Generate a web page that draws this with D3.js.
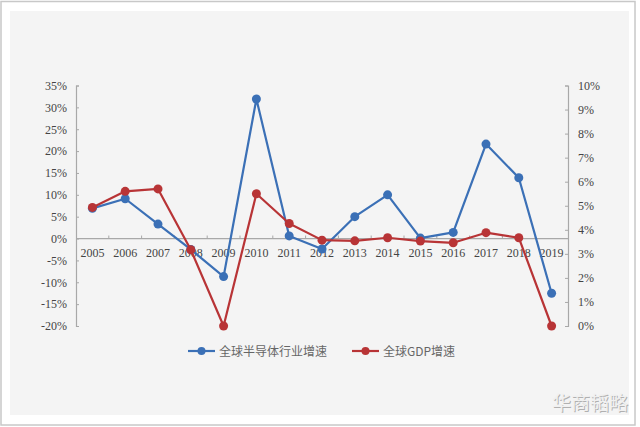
<!DOCTYPE html>
<html><head><meta charset="utf-8">
<script src="https://cdn.jsdelivr.net/npm/d3@7"></script>
<style>html,body{margin:0;padding:0;background:#fff}svg{display:block}
.serif{font-family:"Liberation Serif","DejaVu Serif",serif !important}</style>
</head><body>
<script>
const years = ["2005","2006","2007","2008","2009","2010","2011","2012","2013","2014","2015","2016","2017","2018","2019"];
const semiGrowth = [6.9, 9.1, 3.3, -2.5, -8.7, 31.9, 0.6, -2.4, 5.0, 10.0, 0.1, 1.4, 21.6, 13.9, -12.5];
const gdpGrowth = [4.93, 5.6, 5.7, 3.17, 0.0, 5.5, 4.26, 3.57, 3.54, 3.67, 3.53, 3.46, 3.88, 3.67, 0.0];
const leftTicks = [35,30,25,20,15,10,5,0,-5,-10,-15,-20];
const rightTicks = [10,9,8,7,6,5,4,3,2,1,0];
const seriesNames = ["全球半导体行业增速","全球GDP增速"];
const colors = ["#3b70b6","#b83436"];

const W=640,H=427;
const svg=d3.select("body").append("svg").attr("width",W).attr("height",H);
svg.append("rect").attr("x",0).attr("y",0).attr("width",W).attr("height",H).attr("fill","#fff");
svg.append("rect").attr("x",1).attr("y",1.5).attr("width",634).attr("height",423.5).attr("fill","#fff").attr("stroke","#c8c8c8").attr("stroke-width",1.5);
svg.append("rect").attr("x",10).attr("y",11).attr("width",619).attr("height",404).attr("fill","#f4f4f4");

const x0=76,x1=568;
const x=d3.scalePoint().domain(years).range([x0,x1]).padding(0.5);
const yL=d3.scaleLinear().domain([-20,35]).range([326,85.5]);
const yR=d3.scaleLinear().domain([0,10]).range([326,85.5]);
const axisCol="#a8a8a8";

// left axis
const gL=svg.append("g").attr("transform",`translate(${x0},0)`)
  .call(d3.axisRight(yL).tickValues(leftTicks).tickSize(3).tickFormat(d=>d+"%"));
gL.attr("font-family",null);
gL.select(".domain").attr("stroke",axisCol).attr("stroke-width",1.2);
gL.selectAll(".tick line").attr("stroke",axisCol);
gL.selectAll(".tick text").attr("x",-9).attr("text-anchor","end").attr("class","serif").attr("font-size",12).attr("fill","#444");

// right axis
const gR=svg.append("g").attr("transform",`translate(${x1},0)`)
  .call(d3.axisLeft(yR).tickValues(rightTicks).tickSize(3).tickFormat(d=>d+"%"));
gR.attr("font-family",null);
gR.select(".domain").attr("stroke",axisCol).attr("stroke-width",1.2);
gR.selectAll(".tick line").attr("stroke",axisCol);
gR.selectAll(".tick text").attr("x",10).attr("text-anchor","start").attr("class","serif").attr("font-size",12).attr("fill","#444");

// x axis at 0%
const y0=yL(0);
svg.append("line").attr("x1",x0).attr("x2",x1).attr("y1",y0).attr("y2",y0).attr("stroke",axisCol).attr("stroke-width",1.2);
const step=x.step();
years.slice(1).forEach((yr)=>{
  const bx=x(yr)-step/2;
  svg.append("line").attr("x1",bx).attr("x2",bx).attr("y1",y0).attr("y2",y0-3).attr("stroke",axisCol);
});
svg.append("g").selectAll("text").data(years).join("text")
  .attr("x",d=>x(d)).attr("y",y0+18).attr("text-anchor","middle")
  .attr("class","serif").attr("font-size",12).attr("fill","#444").text(d=>d);

// lines
function drawSeries(vals,scale,col){
  const line=d3.line().x((d,i)=>x(years[i])).y(d=>scale(d));
  svg.append("path").datum(vals).attr("d",line).attr("fill","none").attr("stroke",col).attr("stroke-width",2.2).attr("stroke-linejoin","round");
  svg.append("g").selectAll("circle").data(vals).join("circle")
    .attr("cx",(d,i)=>x(years[i])).attr("cy",d=>scale(d)).attr("r",4.5).attr("fill",col);
}
drawSeries(semiGrowth,yL,colors[0]);
drawSeries(gdpGrowth,yR,colors[1]);

// legend
const legY=351;
const leg=[{x:188,tx:219},{x:352,tx:383}];
seriesNames.forEach((n,i)=>{
  const l=leg[i];
  svg.append("line").attr("x1",l.x).attr("x2",l.x+27).attr("y1",legY).attr("y2",legY).attr("stroke",colors[i]).attr("stroke-width",2.2);
  svg.append("circle").attr("cx",l.x+13.5).attr("cy",legY).attr("r",4).attr("fill",colors[i]);
  svg.append("text").attr("x",l.tx).attr("y",legY+4.5).attr("font-family","'Noto Sans CJK SC',sans-serif").attr("font-size",12).attr("fill","#666").text(n);
});

// watermark
svg.append("text").attr("x",629).attr("y",411).attr("text-anchor","end")
  .attr("font-family","'Noto Sans CJK SC',sans-serif").attr("font-size",19).attr("fill","#b0b0b0").text("华商韬略");
svg.append("text").attr("x",628).attr("y",410).attr("text-anchor","end")
  .attr("font-family","'Noto Sans CJK SC',sans-serif").attr("font-size",19).attr("fill","#f0f0f0").text("华商韬略");
</script>
</body></html>
